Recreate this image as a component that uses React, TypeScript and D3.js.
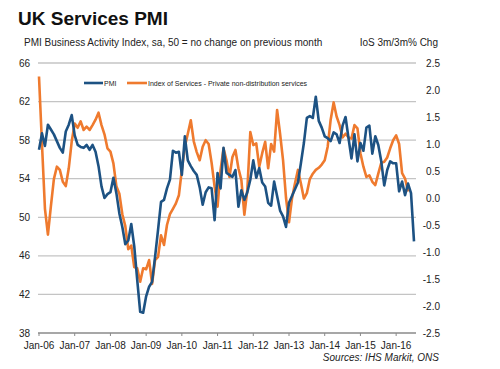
import React from "react";
import * as d3 from "d3";

// Monthly categories Jan-2006 .. Jul-2016
const months: Date[] = d3.timeMonth.range(new Date(2006, 0, 1), new Date(2016, 7, 1));
const yearTicks: string[] = ["Jan-06", "Jan-07", "Jan-08", "Jan-09", "Jan-10", "Jan-11", "Jan-12", "Jan-13", "Jan-14", "Jan-15", "Jan-16"];
const leftTicks: number[] = [38, 42, 46, 50, 54, 58, 62, 66];
const rightTicks: number[] = [-2.5, -2.0, -1.5, -1.0, -0.5, 0.0, 0.5, 1.0, 1.5, 2.0, 2.5];

// UK Services PMI Business Activity Index (Jan-06 .. Jul-16)
const pmi: number[] = [
  57.0, 58.7, 57.4, 59.6, 59.1, 58.6, 57.9, 57.2, 56.7, 58.9, 59.6, 60.6,
  58.5, 57.5, 57.3, 57.2, 57.5, 57.0, 57.5, 56.8, 55.3, 53.2, 52.0, 52.4,
  52.6, 54.1, 52.5, 50.4, 49.0, 47.2, 47.6, 49.3, 47.0, 43.5, 40.2, 40.1,
  41.8, 42.8, 43.3, 45.9, 48.7, 51.6, 51.8, 53.0, 53.9, 56.9, 56.7, 56.8,
  54.4, 58.4, 55.9, 55.3, 54.8, 54.4, 53.1, 51.3, 52.6, 53.1, 53.0, 49.7,
  54.6, 53.0, 57.2, 54.6, 54.4, 54.2, 54.9, 51.1, 52.8, 51.8, 52.6, 53.9,
  55.9, 54.1, 55.1, 53.6, 53.2, 51.5, 51.2, 53.7, 52.2, 50.7, 50.1, 49.0,
  51.5, 52.2, 52.9, 53.6, 55.6, 57.7, 60.3, 60.5, 60.3, 62.5, 60.0, 59.3,
  58.4, 58.2, 57.9, 58.8, 58.6, 57.7, 59.5, 60.4, 58.2, 56.1, 58.6, 55.8,
  57.7, 56.9, 59.3, 59.5, 56.6, 58.4, 57.5, 55.8, 53.3, 54.9, 55.8, 55.6,
  55.6, 52.7, 53.7, 52.3, 53.5, 52.5, 47.5,
];

// Index of Services - Private non-distribution services, 3m/3m % chg (Jan-06 .. May-16)
const ios: number[] = [
  2.25, 1.0, -0.2, -0.68, -0.15, 0.35, 0.58, 0.52, 0.3, 0.22, 0.55, 1.05,
  1.38, 1.3, 1.42, 1.26, 1.32, 1.26, 1.35, 1.45, 1.58, 1.35, 1.18, 0.92,
  0.86, 0.64, 0.22, 0.08, -0.3, -0.52, -0.95, -0.88, -1.28, -1.3, -1.55, -1.3,
  -1.32, -1.15, -1.59, -1.15, -1.09, -0.69, -0.87, -0.5, -0.3, -0.2, -0.1, 0.05,
  0.52, 0.95, 1.19, 1.44, 1.05, 0.85, 0.7, 0.95, 1.07, 1.0, 0.65, 0.21,
  -0.16, 0.52, 0.92, 0.7, 0.39, 0.76, 0.89, 0.55, 0.33, -0.31, 0.15, 1.22,
  0.98, 1.01, 0.58, 0.83, 1.04, 0.55, 1.0, 0.86, 1.63, 1.19, 0.7, 0.0,
  -0.45, -0.01, 0.27, 0.52, 0.27, -0.01, 0.09, 0.35, 0.45, 0.52, 0.56, 0.62,
  0.7, 0.95, 1.45, 1.77, 1.51, 1.35, 1.12, 1.19, 1.12, 1.1, 1.35, 1.29,
  0.83, 0.58, 0.39, 0.42, 0.3, 0.24, 0.45, 0.65, 0.67, 0.75, 0.92, 1.07,
  1.16, 1.0, 0.46, 0.36, 0.12,
];

const FONT = "'Liberation Sans', Arial, sans-serif";
const BLUE = "#1d5283";
const ORANGE = "#ef7a2e";

export default function App() {
  const W = 500, H = 369;
  const x = d3.scaleLinear().domain([0, months.length - 1]).range([39, 414]);
  const yL = d3.scaleLinear().domain([38, 66]).range([333, 63]);
  const yR = d3.scaleLinear().domain([-2.5, 2.5]).range([333, 63]);

  const linePmi = d3.line<number>().x((_, i) => x(i)).y((d) => yL(d));
  const lineIos = d3.line<number>().x((_, i) => x(i)).y((d) => yR(d));

  return (
    <svg width={W} height={H} style={{ position: "absolute", left: 0, top: 0, background: "#fff" }} fontFamily={FONT}>
      <text x={18} y={25} fontSize={19} fontWeight="bold" fill="#111">UK Services PMI</text>
      <text x={24} y={46} fontSize={10} fill="#222">PMI Business Activity Index, sa, 50 = no change on previous month</text>
      <text x={438} y={46} fontSize={10} fill="#222" textAnchor="end">IoS 3m/3m% Chg</text>

      {leftTicks.filter((t) => t !== 38).map((t) => (
        <line key={"g" + t} x1={38} x2={416} y1={yL(t)} y2={yL(t)} stroke="#c4c4c4" strokeWidth={1.3} />
      ))}
      <line x1={38} x2={416} y1={yL(38)} y2={yL(38)} stroke="#8a8a8a" strokeWidth={1.3} />
      {yearTicks.map((lab, k) => (
        <g key={lab}>
          <line x1={x(k * 12)} x2={x(k * 12)} y1={333} y2={336} stroke="#8a8a8a" strokeWidth={1} />
          <text x={x(k * 12)} y={349} fontSize={10} fill="#222" textAnchor="middle">{lab}</text>
        </g>
      ))}

      {leftTicks.map((t) => (
        <text key={"l" + t} x={30} y={yL(t) + 3.5} fontSize={10} fill="#222" textAnchor="end">{t}</text>
      ))}
      {rightTicks.map((t) => (
        <text key={"r" + t} x={440} y={yR(t) + 3.5} fontSize={10} fill="#222" textAnchor="end">{t.toFixed(1)}</text>
      ))}

      <path d={lineIos(ios) || ""} fill="none" stroke={ORANGE} strokeWidth={2.6} strokeLinejoin="round" />
      <path d={linePmi(pmi) || ""} fill="none" stroke={BLUE} strokeWidth={2.6} strokeLinejoin="round" />

      <line x1={84} x2={103} y1={83} y2={83} stroke={BLUE} strokeWidth={2.6} />
      <text x={104} y={85.5} fontSize={7} fill="#222">PMI</text>
      <line x1={127} x2={147} y1={83} y2={83} stroke={ORANGE} strokeWidth={2.6} />
      <text x={148} y={85.5} fontSize={7} fill="#222">Index of Services - Private non-distribution services</text>

      <text x={439} y={361} fontSize={10} fill="#222" textAnchor="end" fontStyle="italic">Sources: IHS Markit, ONS</text>
    </svg>
  );
}
